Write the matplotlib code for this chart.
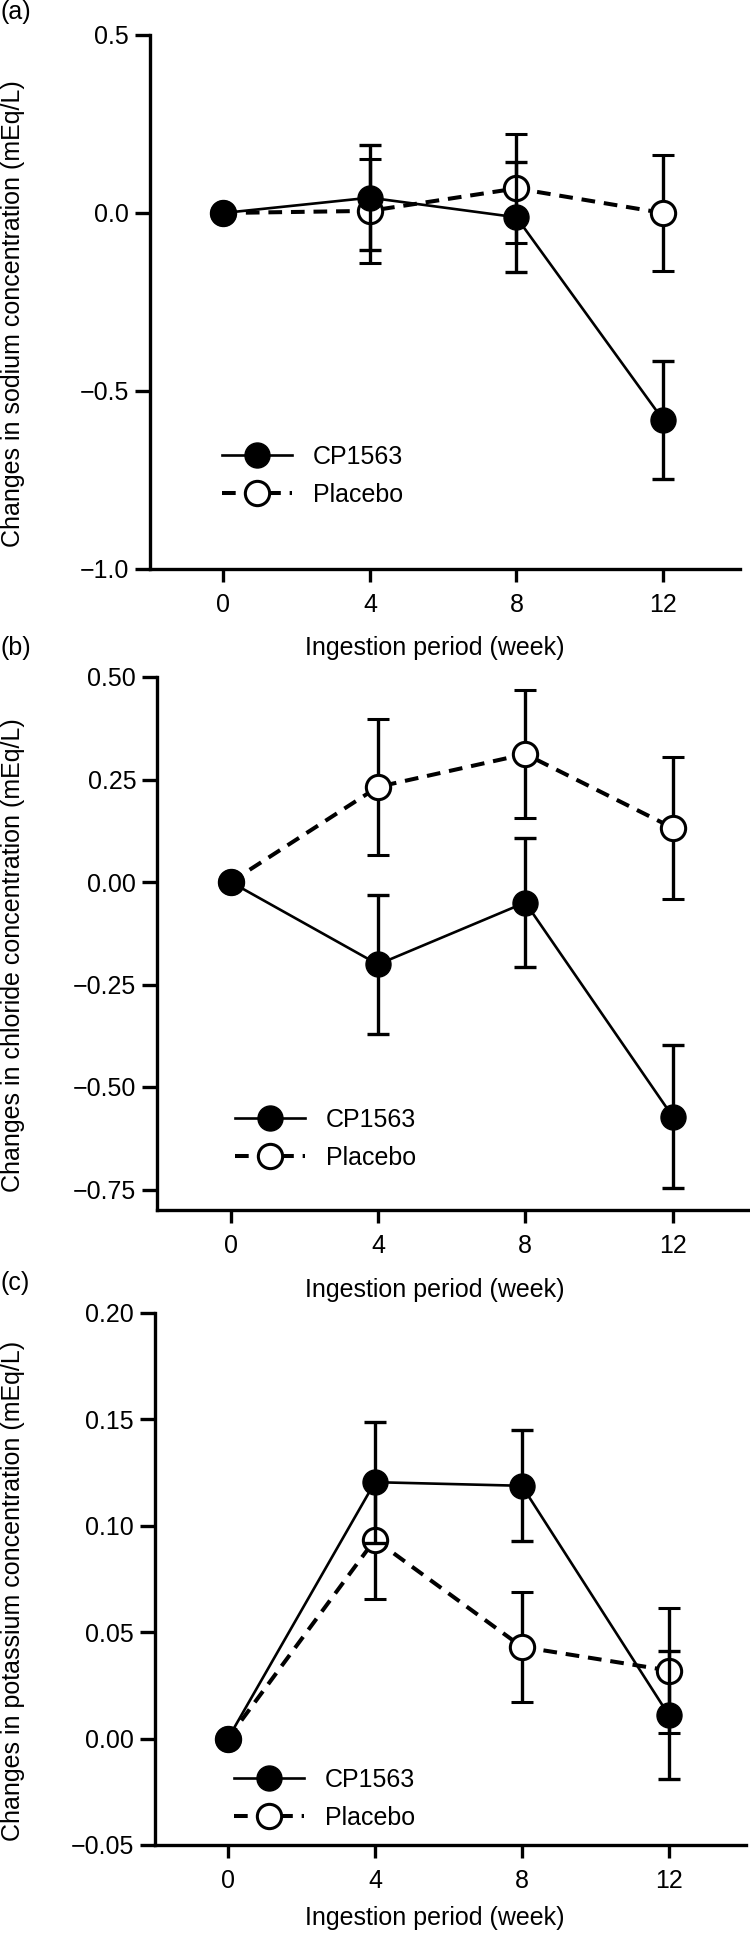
import numpy as np
import matplotlib
matplotlib.use("Agg")
import matplotlib.pyplot as plt

plt.rcParams['font.family'] = ['Liberation Sans', 'DejaVu Sans']

# data (mean, error)
weeks = [0, 4, 8, 12]

na_cp = [0.0, 0.043, -0.012, -0.581]
na_cp_err = [0.0, 0.147, 0.155, 0.166]
na_pl = [0.0, 0.006, 0.069, 0.0]
na_pl_err = [0.0, 0.147, 0.154, 0.164]

cl_cp = [0.0, -0.201, -0.050, -0.572]
cl_cp_err = [0.0, 0.169, 0.158, 0.175]
cl_pl = [0.0, 0.232, 0.312, 0.132]
cl_pl_err = [0.0, 0.166, 0.157, 0.173]

k_cp = [0.0, 0.1205, 0.1188, 0.011]
k_cp_err = [0.0, 0.0285, 0.026, 0.030]
k_pl = [0.0, 0.0935, 0.0431, 0.032]
k_pl_err = [0.0, 0.028, 0.026, 0.0295]

ylabels = ["Changes in sodium concentration (mEq/L)",
           "Changes in chloride concentration (mEq/L)",
           "Changes in potassium concentration (mEq/L)"]
panel_tags = ["(a)", "(b)", "(c)"]
yticks_all = [[-1.0, -0.5, 0.0, 0.5],
              [-0.75, -0.5, -0.25, 0.0, 0.25, 0.5],
              [-0.05, 0.0, 0.05, 0.10, 0.15, 0.20]]
yfmt = ["%.1f", "%.2f", "%.2f"]
ylims = [(-1.0, 0.5), (-0.80, 0.5), (-0.05, 0.20)]

W, H = 750, 1939
fig = plt.figure(figsize=(W / 100, H / 100), dpi=100)

# axes boxes in pixels: left, top, right, bottom
boxes = [(150, 35, 740, 569), (157, 677, 750, 1210), (154.5, 1313, 746, 1845)]
tag_y = [12, 648, 1283]
leg_pos = [(0.122, 0.174), (0.131, 0.133), (0.134, 0.0865)]
xlab_x = [0.483, 0.469, 0.474]
xlab_y = [-0.148, -0.150, -0.137]

sets = [(na_cp, na_cp_err, na_pl, na_pl_err),
        (cl_cp, cl_cp_err, cl_pl, cl_pl_err),
        (k_cp, k_cp_err, k_pl, k_pl_err)]

fs = 18
for i in range(3):
    l, t, r, b = boxes[i]
    ax = fig.add_axes([l / W, 1 - b / H, (r - l) / W, (b - t) / H])
    cp, cpe, pl, ple = sets[i]

    pl_c = ax.errorbar(weeks, pl, yerr=ple, fmt='o', linestyle=(0, (3.4, 2.2)),
                       color='k', lw=2.9, ms=17.5, mfc='white', mec='k', mew=2.2,
                       elinewidth=2.4, capsize=8.2, capthick=2.4, zorder=2,
                       label="Placebo")
    cp_c = ax.errorbar(weeks, cp, yerr=cpe, fmt='o-', color='k', lw=1.9,
                       ms=18, mfc='k', mec='k', elinewidth=2.4, capsize=8.2,
                       capthick=2.4, zorder=3, label="CP1563")

    ax.set_xlim(-2, 14.1)
    ax.set_ylim(*ylims[i])
    ax.set_xticks(weeks)
    ax.set_yticks(yticks_all[i])
    ax.set_yticklabels([(yfmt[i] % v).replace('-', '\u2212') for v in yticks_all[i]])
    for s in ['top', 'right']:
        ax.spines[s].set_visible(False)
    for s in ['left', 'bottom']:
        ax.spines[s].set_linewidth(2.4)
    ax.tick_params(axis='x', direction='out', length=9.5, width=2.4, pad=7.5, labelsize=fs)
    ax.tick_params(axis='y', direction='out', length=11, width=2.4, pad=4, labelsize=fs)

    ax.set_xlabel("Ingestion period (week)", fontsize=fs)
    ax.xaxis.label.set_va('center')
    ax.xaxis.set_label_coords(xlab_x[i], xlab_y[i])
    ax.set_ylabel(ylabels[i], fontsize=fs)
    ax.yaxis.set_label_coords((25 - l) / (r - l), 0.478)

    ax.legend(handles=[cp_c[0], pl_c[0]], labels=["CP1563", "Placebo"],
              loc='center left', bbox_to_anchor=leg_pos[i], frameon=False,
              borderpad=0, borderaxespad=0, handlelength=2.8, handletextpad=0.85,
              labelspacing=0.55, fontsize=fs)

    fig.text(0.0, 1 - tag_y[i] / H, panel_tags[i], fontsize=fs, va='center', ha='left')

fig.savefig("out.png", dpi=100)
